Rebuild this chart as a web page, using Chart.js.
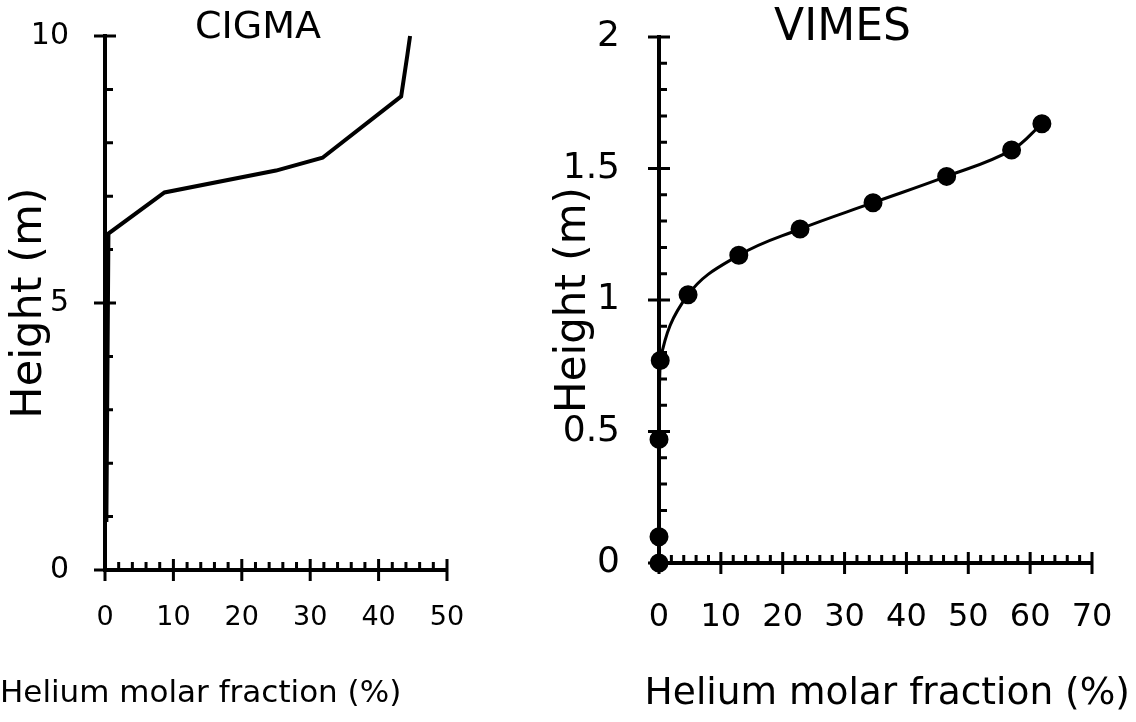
<!DOCTYPE html>
<html>
<head>
<meta charset="utf-8">
<script src="https://cdn.jsdelivr.net/npm/chart.js@4"></script>
<style>
  body { margin: 0; background: #fff; }
  #wrap { position: relative; width: 1136px; height: 722px; overflow: hidden; }
  canvas { position: absolute; top: 0; }
  #cigma { left: 0; }
  #vimes { left: 540px; }
</style>
</head>
<body>
<div id="wrap">
  <canvas id="cigma" width="516" height="722"></canvas>
  <canvas id="vimes" width="596" height="722"></canvas>
</div>
<script>
// CIGMA profile
const cigmaHelium = [0.2, 0.5, 8.7, 25.0, 31.8, 43.3, 44.2, 44.6];
const cigmaHeight = [0.9, 6.3, 7.07, 7.48, 7.72, 8.87, 9.64, 10.0];

// VIMES profile
const vimesHelium = [0, 0, 0, 0.2, 4.7, 12.9, 22.8, 34.6, 46.5, 57.0, 61.9];
const vimesHeight = [0, 0.10, 0.47, 0.77, 1.02, 1.17, 1.27, 1.37, 1.47, 1.57, 1.67];

const xTitle = 'Helium molar fraction (%)';
const yTitle = 'Height (m)';
const FONT = 'DejaVu Sans';

function toPoints(xs, ys) {
  return xs.map((x, i) => ({ x: x, y: ys[i] }));
}

// draws the cross ticks (labelled) and the inside minor ticks
const tickMarks = {
  id: 'tickMarks',
  afterDraw(chart) {
    const ctx = chart.ctx;
    const area = chart.chartArea;
    const xs = chart.scales.x, ys = chart.scales.y;
    ctx.save();
    ctx.strokeStyle = '#000';
    ctx.lineWidth = 3;
    ctx.beginPath();
    xs.ticks.forEach(t => {
      const px = xs.getPixelForValue(t.value);
      const major = t.label !== '';
      ctx.moveTo(px, area.bottom - (major ? 11 : 8));
      ctx.lineTo(px, area.bottom + (major ? 11 : 0));
    });
    ys.ticks.forEach(t => {
      const py = ys.getPixelForValue(t.value);
      const major = t.label !== '';
      ctx.moveTo(area.left - (major ? 11 : 0), py);
      ctx.lineTo(area.left + (major ? 11 : 8), py);
    });
    ctx.stroke();
    ctx.restore();
  }
};

function makeChart(id, cfg) {
  const titleLH = cfg.titleSize * 1.2;
  const titlePadTop = cfg.titleY - titleLH / 2;
  const botLH = cfg.botSize * 1.2;
  return new Chart(document.getElementById(id), {
    type: 'scatter',
    data: {
      datasets: [{
        data: cfg.points,
        showLine: true,
        borderColor: '#000',
        backgroundColor: '#000',
        borderWidth: cfg.lineWidth,
        pointRadius: cfg.pointRadius,
        pointHoverRadius: cfg.pointRadius,
        tension: cfg.tension,
        clip: false
      }]
    },
    options: {
      responsive: false,
      animation: false,
      events: [],
      layout: { padding: { left: cfg.padLeft, right: cfg.padRight, top: 0, bottom: 0 } },
      plugins: {
        legend: { display: false },
        tooltip: { enabled: false },
        title: {
          display: true,
          text: cfg.title,
          color: '#000',
          font: { family: FONT, size: cfg.titleSize, weight: 'normal' },
          padding: { top: titlePadTop, bottom: cfg.top - titleLH - titlePadTop }
        },
        subtitle: {
          display: true,
          position: 'bottom',
          align: cfg.botAlign,
          text: xTitle,
          color: '#000',
          font: { family: FONT, size: cfg.botSize, weight: 'normal' },
          padding: { top: 0, bottom: 28 - botLH / 2 }
        }
      },
      scales: {
        x: {
          type: 'linear',
          min: 0, max: cfg.xMax,
          grid: { display: false },
          border: { display: true, color: '#000', width: 4 },
          ticks: {
            stepSize: 2,
            autoSkip: false,
            maxRotation: 0,
            color: '#000',
            padding: cfg.xTickPad,
            font: { family: FONT, size: cfg.xTickSize },
            callback: v => (v % 10 === 0 ? String(v) : '')
          },
          afterFit(s) {
            s.height = 722 - 28 - botLH / 2 - cfg.bottom;
            s.paddingLeft = 0;
            s.paddingRight = 0;
          }
        },
        y: {
          type: 'linear',
          min: 0, max: cfg.yMax,
          grid: { display: false },
          border: { display: true, color: '#000', width: 4 },
          title: {
            display: true,
            text: yTitle,
            color: '#000',
            font: { family: FONT, size: cfg.yTitleSize, weight: 'normal' },
            padding: { top: cfg.yTitleX - cfg.padLeft - cfg.yTitleSize * 0.6, bottom: 0 }
          },
          ticks: {
            stepSize: cfg.yStep,
            autoSkip: false,
            color: '#000',
            padding: cfg.yTickPad,
            font: { family: FONT, size: cfg.yTickSize },
            callback: cfg.yLabel
          },
          afterFit(s) {
            s.width = cfg.left - cfg.padLeft;
            s.paddingTop = 0;
            s.paddingBottom = 0;
          }
        },
        // empty right-hand strip so the titles can sit off-centre of the plot
        pad: {
          type: 'linear',
          position: 'right',
          display: true,
          grid: { display: false },
          border: { display: false },
          ticks: { display: false },
          afterFit(s) { s.width = cfg.rightGap; }
        }
      }
    },
    plugins: [tickMarks]
  });
}

makeChart('cigma', {
  points: toPoints(cigmaHelium, cigmaHeight),
  title: 'CIGMA',
  titleSize: 38,
  titleY: 28,
  botSize: 31,
  botAlign: 'start',
  yTitleSize: 43,
  yTitleX: 30,
  lineWidth: 4,
  pointRadius: 0,
  tension: 0,
  padLeft: 0,
  padRight: 0,
  left: 105,
  top: 36,
  bottom: 570,
  xMax: 50,
  yMax: 10,
  yStep: 1,
  yLabel: v => (v % 5 === 0 ? String(v) : ''),
  xTickSize: 27,
  xTickPad: 24,
  yTickSize: 30,
  yTickPad: 28,
  rightGap: 69
});

makeChart('vimes', {
  points: toPoints(vimesHelium, vimesHeight),
  title: 'VIMES',
  titleSize: 44,
  titleY: 29,
  botSize: 37.5,
  botAlign: 'end',
  yTitleSize: 42,
  yTitleX: 34,
  lineWidth: 3,
  pointRadius: 8,
  tension: 0.4,
  padLeft: 15,
  padRight: 6,
  left: 119,
  top: 37,
  bottom: 563,
  xMax: 70,
  yMax: 2,
  yStep: 0.1,
  yLabel: v => (Math.abs(v * 2 - Math.round(v * 2)) < 1e-6 ? String(v) : ''),
  xTickSize: 32,
  xTickPad: 27,
  yTickSize: 36,
  yTickPad: 31,
  rightGap: 38
});
</script>
</body>
</html>
